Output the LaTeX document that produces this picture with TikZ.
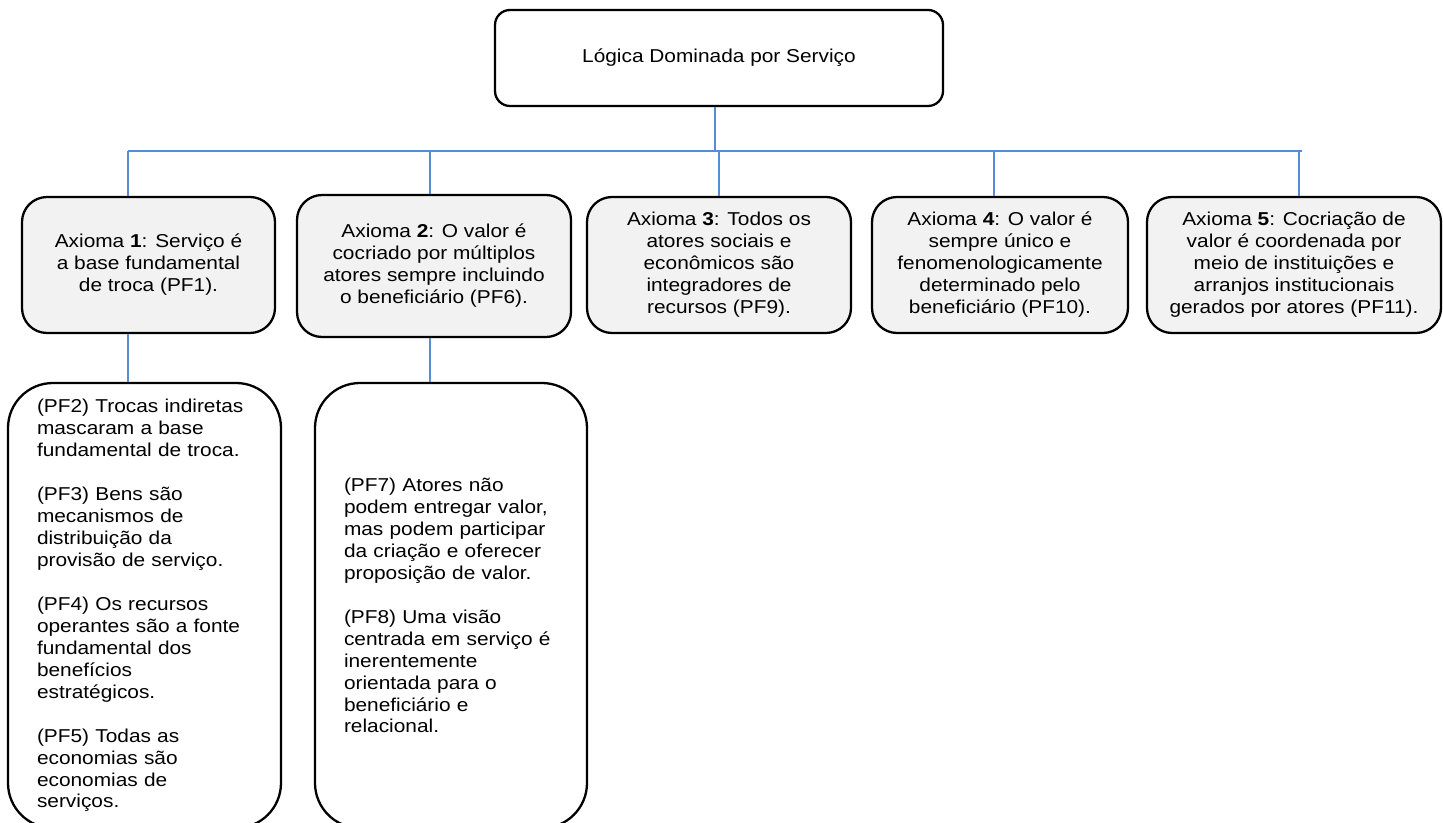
\documentclass[tikz,border=0pt]{standalone}
\usepackage{fontspec}
\setmainfont[FakeStretch=1.12]{Liberation Sans}
\usepackage{tikz}
\usetikzlibrary{positioning}
\definecolor{linkblue}{RGB}{87,140,210}
\definecolor{axgray}{RGB}{242,242,242}
\tikzset{
  treenode/.style = {align=center, inner sep=0pt, text centered, draw=black,
    line width=1.3pt, font=\fontsize{10.6pt}{12.5pt}\selectfont},
  top_n/.style = {treenode, rectangle, rounded corners=0.3cm, fill=white,
    minimum width=8.96cm, minimum height=1.92cm},% caixa do topo
  ax_n/.style = {treenode, rectangle, rounded corners=0.5cm, fill=axgray,
    minimum height=2.72cm},% axiomas
  pf_n/.style = {treenode, rectangle, rounded corners=0.9cm, fill=white,
    align=left, text width=4.3cm, inner xsep=0.58cm, minimum height=8.9cm},% premissas
}

\begin{document}
\begin{tikzpicture}[conn/.style={draw=linkblue, line width=1.3pt}]
\useasboundingbox (0,0) rectangle (28.86,-16.46);
\node [top_n] (top) at (14.38,-1.16) {L\'ogica Dominada por Servi\c{c}o};
% axiomas
\node [ax_n, minimum width=5.06cm] (ax1) at (2.97,-5.30)
  {Axioma \textbf{1}: Servi\c{c}o \'e\\a base fundamental\\de troca (PF1).};
\node [ax_n, minimum width=5.48cm, minimum height=2.84cm] (ax2) at (8.68,-5.32)
  {Axioma \textbf{2}: O valor \'e\\cocriado por m\'ultiplos\\atores sempre incluindo\\o benefici\'ario (PF6).};
\node [ax_n, minimum width=5.28cm] (ax3) at (14.38,-5.30)
  {Axioma \textbf{3}: Todos os\\atores sociais e\\econ\^omicos s\~ao\\integradores de\\recursos (PF9).};
\node [ax_n, minimum width=5.12cm] (ax4) at (20.00,-5.30)
  {Axioma \textbf{4}: O valor \'e\\sempre \'unico e\\fenomenologicamente\\determinado pelo\\benefici\'ario (PF10).};
\node [ax_n, minimum width=5.88cm] (ax5) at (25.88,-5.30)
  {Axioma \textbf{5}: Cocria\c{c}\~ao de\\valor \'e coordenada por\\meio de institui\c{c}\~oes e\\arranjos institucionais\\gerados por atores (PF11).};
% premissas fundamentais
\node [pf_n] (pf1) at (2.89,-12.11)
  {(PF2) Trocas indiretas\\mascaram a base\\fundamental de troca.\\[12.5pt]
   (PF3) Bens s\~ao\\mecanismos de\\distribui\c{c}\~ao da\\provis\~ao de servi\c{c}o.\\[12.5pt]
   (PF4) Os recursos\\operantes s\~ao a fonte\\fundamental dos\\benef\'icios\\estrat\'egicos.\\[12.5pt]
   (PF5) Todas as\\economias s\~ao\\economias de\\servi\c{c}os.};
\node [pf_n, text width=4.28cm] (pf2) at (9.02,-12.11)
  {(PF7) Atores n\~ao\\podem entregar valor,\\mas podem participar\\da cria\c{c}\~ao e oferecer\\proposi\c{c}\~ao de valor.\\[12.5pt]
   (PF8) Uma vis\~ao\\centrada em servi\c{c}o \'e\\inerentemente\\orientada para o\\benefici\'ario e\\relacional.};
% ligacoes
\coordinate (busL) at (2.56,-3.02);
\coordinate (busR) at (26.04,-3.02);
\coordinate (d0) at (14.30,-3.02);
\coordinate (d2) at (8.60,-3.02);
\coordinate (d4) at (19.88,-3.02);
\coordinate (d5) at (25.98,-3.02);
\draw [conn] (top.south -| d0) -- (d0);
\draw [conn] (busL) -- (busR);
\draw [conn] (busL) -- (busL |- ax1.north);
\draw [conn] (d2) -- (d2 |- ax2.north);
\draw [conn] (ax3.north) -- (ax3.north |- busL);
\draw [conn] (d4) -- (d4 |- ax4.north);
\draw [conn] (d5) -- (d5 |- ax5.north);
\draw [conn] (ax1.south -| busL) -- (pf1.north -| busL);
\draw [conn] (ax2.south -| d2) -- (pf2.north -| d2);
\end{tikzpicture}
\end{document}
